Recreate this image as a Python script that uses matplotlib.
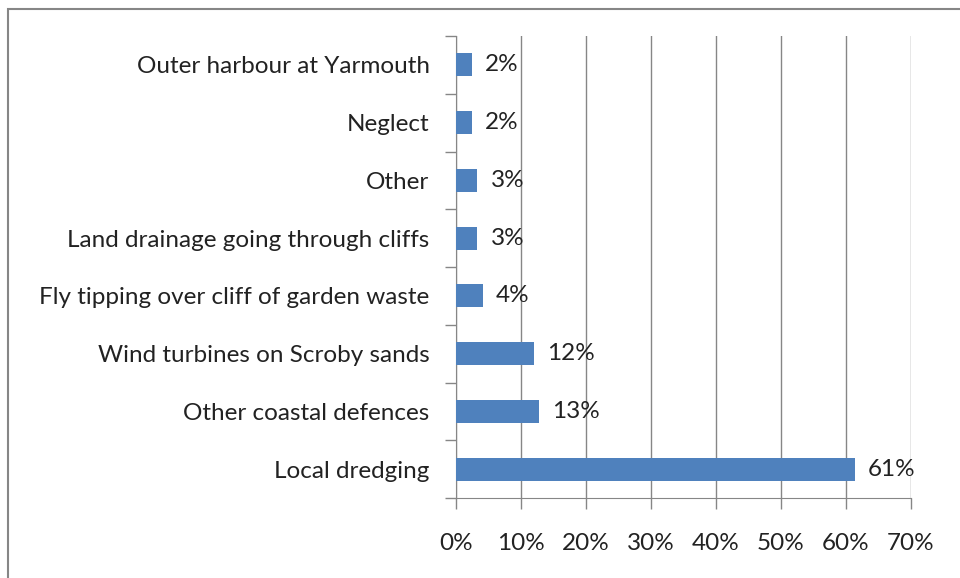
import matplotlib.pyplot as plt
from matplotlib.patches import Rectangle

# causes, bottom to top as drawn
causes = ['Local dredging', 'Other coastal defences', 'Wind turbines on Scroby sands',
          'Fly tipping over cliff of garden waste', 'Land drainage going through cliffs',
          'Other', 'Neglect', 'Outer harbour at Yarmouth']
shares = [61.4, 12.8, 12.0, 4.1, 3.3, 3.3, 2.4, 2.4]
xticks = [0, 10, 20, 30, 40, 50, 60, 70]

plt.rcParams['font.family'] = ['Lato', 'DejaVu Sans']
grey = '#868686'
fs = 17.5

fig = plt.figure(figsize=(9.6, 5.78), dpi=100)
ax = fig.add_axes([456 / 960, 1 - 498 / 578, 455 / 960, 462 / 578])

# outer chart border (left and top visible)
fig.patches.append(Rectangle((8 / 960, -0.1), 1.2, 1 - 9 / 578 + 0.1,
                             transform=fig.transFigure, fill=False,
                             edgecolor=grey, linewidth=1.5))

pos = list(range(len(causes)))
ax.barh(pos, shares, height=0.4, color='#4F81BD', zorder=3)
for p, v in zip(pos, shares):
    ax.text(v + 2.0, p, f'{round(v)}%', va='center', ha='left', fontsize=fs,
            color='#222222', zorder=4)

ax.set_xlim(0, 70)
ax.set_ylim(-0.5, len(causes) - 0.5)
ax.set_xticks(xticks)
ax.set_xticklabels([f'{t}%' for t in xticks], fontsize=fs, color='#222222')
ax.set_yticks(pos)
ax.set_yticklabels(causes, fontsize=fs, color='#222222')
ax.set_yticks([p - 0.5 for p in pos] + [len(causes) - 0.5], minor=True)
ax.tick_params(axis='y', which='major', length=0, pad=19)
ax.tick_params(axis='y', which='minor', length=8, color=grey, width=1)
ax.tick_params(axis='x', length=8, color=grey, width=1, pad=17)

ax.grid(axis='x', color=grey, linewidth=1, zorder=0)
for s in ['top', 'right']:
    ax.spines[s].set_visible(False)
for s in ['left', 'bottom']:
    ax.spines[s].set_color(grey)

fig.savefig('out.png', dpi=100)
